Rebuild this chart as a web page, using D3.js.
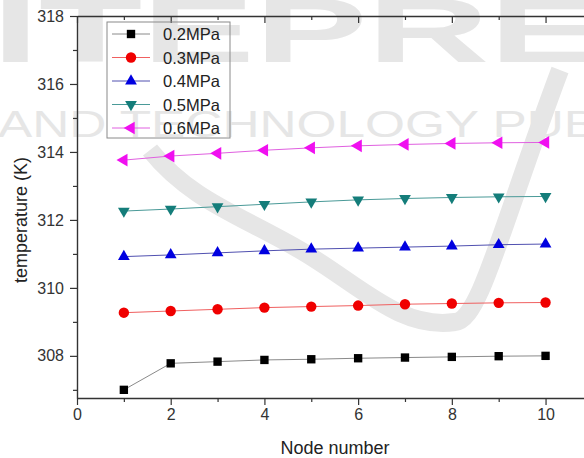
<!DOCTYPE html>
<html>
<head>
<meta charset="utf-8">
<script src="https://cdn.jsdelivr.net/npm/d3@7"></script>
<style>
  body { margin: 0; background: #fff; }
  svg { display: block; font-family: Arial, "Liberation Sans", sans-serif; }
</style>
</head>
<body>
<div id="chart"></div>
<script>
// node numbers along the x axis
var nodes = [1, 2, 3, 4, 5, 6, 7, 8, 9, 10];

// temperature (K) per pressure
var p02 = [307.00, 307.78, 307.83, 307.88, 307.90, 307.93, 307.95, 307.97, 307.99, 308.00];
var p03 = [309.27, 309.32, 309.37, 309.42, 309.45, 309.48, 309.52, 309.54, 309.56, 309.57];
var p04 = [310.92, 310.97, 311.03, 311.09, 311.14, 311.17, 311.20, 311.23, 311.27, 311.29];
var p05 = [312.26, 312.32, 312.39, 312.46, 312.53, 312.59, 312.63, 312.66, 312.68, 312.69];
var p06 = [313.76, 313.88, 313.96, 314.05, 314.12, 314.18, 314.22, 314.25, 314.27, 314.28];

var seriesNames = ['0.2MPa', '0.3MPa', '0.4MPa', '0.5MPa', '0.6MPa'];

var xTicks = [0, 2, 4, 6, 8, 10];
var yTicks = [308, 310, 312, 314, 316, 318];

var width = 584, height = 458;
var svg = d3.select('#chart').append('svg').attr('width', width).attr('height', height);

// faint publisher watermark behind the chart
var wm = svg.append('g').attr('fill', '#e6e6e6');
wm.append('text').attr('x', -8).attr('y', 62).attr('font-size', 90).attr('font-weight', 'bold')
    .attr('textLength', 610).attr('lengthAdjust', 'spacingAndGlyphs').text('ITEPRE');
wm.append('text').attr('x', -2).attr('y', 137).attr('font-size', 37)
    .attr('textLength', 600).attr('lengthAdjust', 'spacingAndGlyphs').text('AND TECHNOLOGY PUB');
svg.append('path')
    .attr('d', 'M150,150 C190,200 240,215 300,250 C360,285 400,330 455,322 C480,320 500,230 560,70')
    .attr('fill', 'none').attr('stroke', '#e6e6e6').attr('stroke-width', 18);

var x = d3.scaleLinear().domain([0, 11]).range([77, 592.4]);
var y = d3.scaleLinear().domain([306.76, 318]).range([398, 16]);

var axisColor = '#333';

function styleAxis(g) {
    g.select('.domain').attr('stroke', axisColor).attr('stroke-width', 1.4);
    g.selectAll('.tick line').attr('stroke', axisColor).attr('stroke-width', 1.2);
    g.selectAll('.tick text').attr('fill', '#333').attr('font-size', 16);
}

// bottom axis
var gx = svg.append('g').attr('transform', 'translate(0,398)')
    .call(d3.axisBottom(x).tickValues(xTicks).tickSize(7).tickPadding(4).tickSizeOuter(0));
styleAxis(gx);
svg.append('g').attr('transform', 'translate(0,398)')
    .call(d3.axisBottom(x).tickValues([1, 3, 5, 7, 9, 11]).tickSize(4).tickFormat('').tickSizeOuter(0))
    .call(function (g) { g.select('.domain').remove(); g.selectAll('line').attr('stroke', axisColor).attr('stroke-width', 1.2); });

// top axis, ticks pointing inward
var gt = svg.append('g').attr('transform', 'translate(0,16)')
    .call(d3.axisBottom(x).tickValues(xTicks).tickSize(7).tickFormat('').tickSizeOuter(0));
styleAxis(gt);
svg.append('g').attr('transform', 'translate(0,16)')
    .call(d3.axisBottom(x).tickValues([1, 3, 5, 7, 9, 11]).tickSize(4).tickFormat('').tickSizeOuter(0))
    .call(function (g) { g.select('.domain').remove(); g.selectAll('line').attr('stroke', axisColor).attr('stroke-width', 1.2); });

// left axis
var gy = svg.append('g').attr('transform', 'translate(77,0)')
    .call(d3.axisLeft(y).tickValues(yTicks).tickSize(7).tickPadding(6).tickSizeOuter(0));
styleAxis(gy);
svg.append('g').attr('transform', 'translate(77,0)')
    .call(d3.axisLeft(y).tickValues([307, 309, 311, 313, 315, 317]).tickSize(4).tickFormat('').tickSizeOuter(0))
    .call(function (g) { g.select('.domain').remove(); g.selectAll('line').attr('stroke', axisColor).attr('stroke-width', 1.2); });

// axis titles
svg.append('text').attr('x', 335).attr('y', 454).attr('text-anchor', 'middle')
    .attr('font-size', 18).attr('fill', '#222').text('Node number');
svg.append('text').attr('transform', 'translate(27,220) rotate(-90)').attr('text-anchor', 'middle')
    .attr('font-size', 18).attr('fill', '#222').text('temperature (K)');

// series
var series = [
    { name: seriesNames[0], values: p02, color: '#000000', line: '#8a8a8a', shape: d3.symbolSquare, size: 70, rot: 0 },
    { name: seriesNames[1], values: p03, color: '#f00000', line: '#f06060', shape: d3.symbolCircle, size: 85, rot: 0 },
    { name: seriesNames[2], values: p04, color: '#0000e0', line: '#5050b0', shape: d3.symbolTriangle, size: 60, rot: 0 },
    { name: seriesNames[3], values: p05, color: '#147d7a', line: '#4a9a98', shape: d3.symbolTriangle, size: 60, rot: 180 },
    { name: seriesNames[4], values: p06, color: '#f010f0', line: '#e060e0', shape: d3.symbolTriangle, size: 70, rot: -90 }
];

var line = d3.line().x(function (d) { return x(d[0]); }).y(function (d) { return y(d[1]); });

series.forEach(function (s) {
    var pts = nodes.map(function (n, i) { return [n, s.values[i]]; });
    svg.append('path').datum(pts).attr('d', line)
        .attr('fill', 'none').attr('stroke', s.line).attr('stroke-width', 1);
    svg.append('g').selectAll('path').data(pts).enter().append('path')
        .attr('d', d3.symbol().type(s.shape).size(s.size))
        .attr('transform', function (d) { return 'translate(' + x(d[0]) + ',' + y(d[1]) + ') rotate(' + s.rot + ')'; })
        .attr('fill', s.color);
});

// legend
var legend = svg.append('g');
legend.append('rect').attr('x', 107).attr('y', 22).attr('width', 123).attr('height', 116)
    .attr('fill', 'none').attr('stroke', '#8a8a8a').attr('stroke-width', 1);
series.forEach(function (s, i) {
    var ly = 34 + i * 23.5;
    legend.append('line').attr('x1', 112).attr('x2', 150).attr('y1', ly).attr('y2', ly)
        .attr('stroke', s.line).attr('stroke-width', 1);
    legend.append('path').attr('d', d3.symbol().type(s.shape).size(s.size))
        .attr('transform', 'translate(131,' + ly + ') rotate(' + s.rot + ')').attr('fill', s.color);
    legend.append('text').attr('x', 163).attr('y', ly + 6).attr('font-size', 16.5)
        .attr('fill', '#222').text(s.name);
});
</script>
</body>
</html>
